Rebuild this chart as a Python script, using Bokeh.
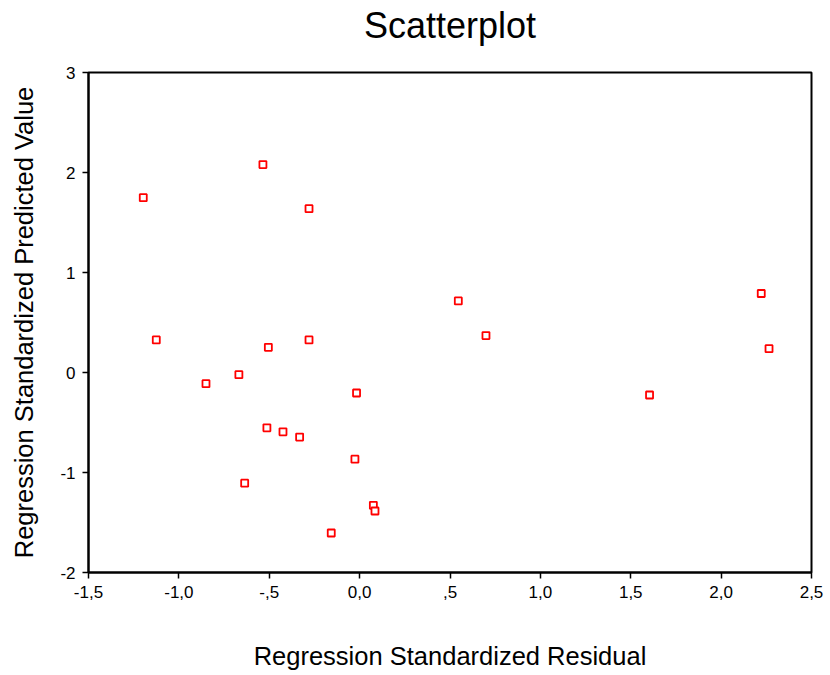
from bokeh.plotting import figure
from bokeh.models import Range1d, FixedTicker, Title
from bokeh.embed import file_html
from bokeh.resources import INLINE

# Data
resid = [-1.197, -0.535, -0.280, -1.125, -0.505, -0.280, -0.850, -0.668,
         -0.017, -0.513, -0.424, -0.332, -0.026, -0.636, 0.076, 0.085,
         -0.157, 0.546, 0.699, 1.604, 2.222, 2.265]
pred = [1.748, 2.079, 1.638, 0.326, 0.252, 0.326, -0.112, -0.022,
        -0.205, -0.553, -0.593, -0.646, -0.867, -1.107, -1.328, -1.385,
        -1.605, 0.716, 0.369, -0.225, 0.790, 0.238]

x_ticks = [-1.5, -1.0, -0.5, 0.0, 0.5, 1.0, 1.5, 2.0, 2.5]
x_tick_labels = ["-1,5", "-1,0", "-,5", "0,0", ",5", "1,0", "1,5", "2,0", "2,5"]
y_ticks = [-2, -1, 0, 1, 2, 3]
y_tick_labels = ["-2", "-1", "0", "1", "2", "3"]

FONT = "Liberation Sans"

p = figure(width=830, height=675, output_backend="svg", toolbar_location=None,
           x_range=Range1d(-1.5, 2.5), y_range=Range1d(-2, 3),
           min_border_left=88, min_border_right=19,
           min_border_top=72, min_border_bottom=103)

# spacer between the frame and the title (closest to the frame)
p.add_layout(Title(text=" ", text_font_size="1px", standoff=18), "above")
p.add_layout(Title(text="Scatterplot", align="center", vertical_align="top",
                   text_font=FONT, text_font_size="36px",
                   text_font_style="normal", text_color="black",
                   standoff=8), "above")

p.grid.visible = False
p.outline_line_color = "black"
p.outline_line_width = 2
p.background_fill_color = "white"
p.border_fill_color = "white"

p.xaxis.ticker = FixedTicker(ticks=x_ticks)
p.xaxis.major_label_overrides = {t: l for t, l in zip(x_ticks, x_tick_labels)}
p.yaxis.ticker = FixedTicker(ticks=y_ticks)
p.yaxis.major_label_overrides = {t: l for t, l in zip(y_ticks, y_tick_labels)}

p.xaxis.axis_label = "Regression Standardized Residual"
p.yaxis.axis_label = "Regression Standardized Predicted Value"

for ax in (p.xaxis, p.yaxis):
    ax.axis_line_color = "black"
    ax.axis_line_width = 2
    ax.major_tick_line_color = "black"
    ax.major_tick_line_width = 1.5
    ax.major_tick_in = 0
    ax.major_tick_out = 6
    ax.minor_tick_line_color = None
    ax.major_label_text_font = FONT
    ax.major_label_text_font_size = "17px"
    ax.major_label_text_color = "black"
    ax.axis_label_text_font = FONT
    ax.axis_label_text_font_size = "25.5px"
    ax.axis_label_text_font_style = "normal"
    ax.axis_label_text_color = "black"

p.xaxis.major_label_standoff = 7
p.yaxis.major_label_standoff = 7
p.xaxis.axis_label_text_line_height = 1.0
p.xaxis.axis_label_standoff = 41
p.yaxis.axis_label_standoff = 19

p.scatter(resid, pred, marker="square", size=7, fill_color="white",
          line_color="#FF0000", line_width=1.8)

open("out.html", "w").write(file_html(p, INLINE))
